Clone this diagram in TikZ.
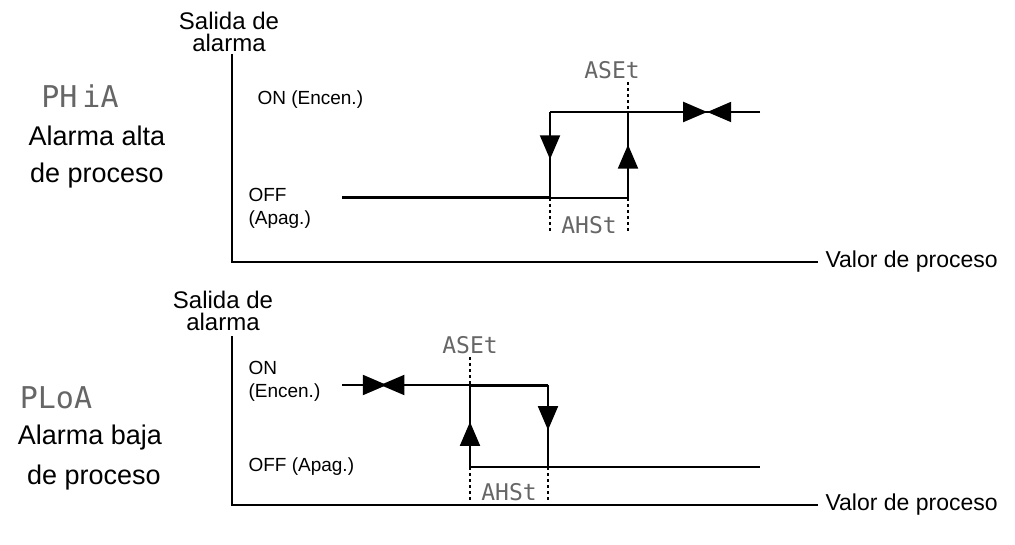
\documentclass[tikz,border=0pt]{standalone}
\usepackage{fontspec}
\setmainfont{Liberation Sans}
\newfontfamily\segfont{DejaVu Sans Mono}
\usetikzlibrary{arrows.meta,decorations.markings}
\tikzset{
  axis/.style={line width=2.6pt},
  lvl/.style={line width=2pt},
  thk/.style={line width=3pt},
  tip/.style={postaction={decorate},decoration={markings,
    mark=at position #1 with {\arrow{Triangle[length=24pt,width=20pt]}}}},
  dots/.style={line width=2pt,dash pattern=on 3pt off 3pt},
  seg/.style={font=\segfont\fontsize{23}{23}\selectfont,text=black!60},
  bigseg/.style={font=\segfont\fontsize{30}{30}\selectfont,text=black!60},
  lbl/.style={font=\fontsize{19}{23}\selectfont,align=left},
  val/.style={font=\fontsize{23}{23}\selectfont},
  axl/.style={font=\fontsize{24}{22}\selectfont,align=center},
  big/.style={font=\fontsize{27}{31}\selectfont}
}
\begin{document}
\begin{tikzpicture}[x=1pt,y=-1pt]
\useasboundingbox (0,0) rectangle (1015,545);
% upper chart: high alarm
\node[bigseg] (ph) at (80,96) {PH\,iA};
\node[big] (ph-a) at (97,136) {Alarma alta};
\node[big] (ph-b) at (97,176) {de proceso};
\node[axl] (out-a) at (229,32) {Salida de\\alarma};
\coordinate (o-a) at (232,262);
\coordinate (ytop-a) at (232,54);
\coordinate (xend-a) at (818,262);
\node[val,anchor=west] (val-a) at (822,262) {Valor de proceso};
\draw[axis] (ytop-a) -- (o-a) -- (xend-a);
\node[lbl,anchor=west] (on-a) at (254,100) {ON (Encen.)};
\node[lbl,anchor=west] (off-a) at (245,208) {OFF\\(Apag.)};
\coordinate (s-a) at (342,198);
\coordinate (d1-a) at (550,198);
\coordinate (u1-a) at (550,112);
\coordinate (d2-a) at (628,198);
\coordinate (u2-a) at (628,112);
\coordinate (e-a) at (760,112);
\draw[thk] (s-a) -- (d1-a);
\draw[lvl] (d1-a) -- (d2-a);
\draw[lvl,tip=0.55] (u1-a) -- (d1-a);
\draw[lvl,tip=0.62] (d2-a) -- (u2-a);
\draw[lvl] (u1-a) -- (u2-a);
\draw[lvl,tip=0.6] (u2-a) -- (e-a);
\draw[lvl,tip=0.4] (e-a) -- (u2-a);
\node[seg] (aset-a) at (612,70) {ASEt};
\draw[dots] (aset-a.south -| u2-a) -- (u2-a);
\draw[dots] ([yshift=6pt]d1-a) -- ++(0,40);
\draw[dots] ([yshift=6pt]d2-a) -- ++(0,40);
\node[seg] (ahst-a) at (589,225) {AHSt};
% lower chart: low alarm
\node[bigseg] (pl) at (56,398) {PLoA};
\node[big] (pl-a) at (90,438) {Alarma baja};
\node[big] (pl-b) at (94,478) {de proceso};
\node[axl] (out-b) at (223,311) {Salida de\\alarma};
\coordinate (o-b) at (232,505);
\coordinate (ytop-b) at (232,336);
\coordinate (xend-b) at (818,505);
\node[val,anchor=west] (val-b) at (822,505) {Valor de proceso};
\draw[axis] (ytop-b) -- (o-b) -- (xend-b);
\node[lbl,anchor=west] (on-b) at (245,381) {ON\\(Encen.)};
\node[lbl,anchor=west] (off-b) at (245,467) {OFF (Apag.)};
\coordinate (s-b) at (342,385);
\coordinate (u1-b) at (470,385);
\coordinate (d1-b) at (470,467);
\coordinate (u2-b) at (548,385);
\coordinate (d2-b) at (548,467);
\coordinate (e-b) at (760,467);
\draw[thk] (u1-b) -- (u2-b);
\draw[lvl,tip=0.35] (s-b) -- (u1-b);
\draw[lvl,tip=0.7] (u1-b) -- (s-b);
\draw[lvl,tip=0.55] (d1-b) -- (u1-b);
\draw[lvl,tip=0.55] (u2-b) -- (d2-b);
\draw[lvl] (d1-b) -- (e-b);
\node[seg] (aset-b) at (470,345) {ASEt};
\draw[dots] (aset-b.south -| u1-b) -- (u1-b);
\draw[dots] ([yshift=6pt]d1-b) -- ++(0,40);
\draw[dots] ([yshift=6pt]d2-b) -- ++(0,40);
\node[seg] (ahst-b) at (509,492) {AHSt};
\end{tikzpicture}
\end{document}
